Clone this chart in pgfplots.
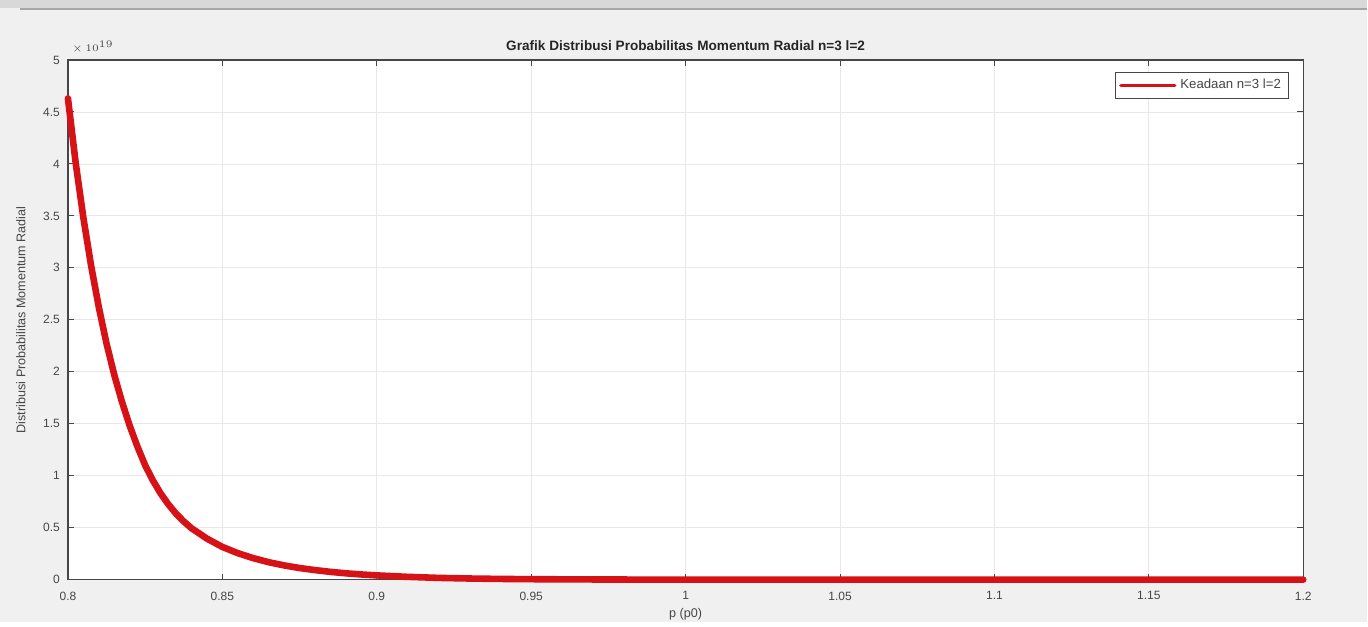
\documentclass[border=0pt]{standalone}
\usepackage{pgfplots}
\pgfplotsset{compat=1.18}
\usepackage{fontspec}
\setmainfont{Liberation Sans}
\definecolor{mred}{RGB}{214,18,22}
\definecolor{axgray}{RGB}{70,70,70}
\definecolor{bg}{RGB}{240,240,240}
\begin{document}
\begin{tikzpicture}
\fill[bg] (-34pt,-21pt) rectangle (650pt,290pt);
\fill[bg!90!black] (-34pt,286pt) rectangle (650pt,290pt);
\draw[gray!70, line width=0.8pt] (-24pt,285.5pt) -- (650pt,285.5pt);
\begin{axis}[
  scale only axis,
  width=618pt, height=260pt,
  at={(0,0)}, anchor=south west,
  xmin=0.8, xmax=1.2, ymin=0, ymax=5,
  axis background/.style={fill=white},
  axis line style={axgray, line width=0.6pt},
  xtick={0.8,0.85,0.9,0.95,1,1.05,1.1,1.15,1.2},
  xticklabels={0.8,0.85,0.9,0.95,1,1.05,1.1,1.15,1.2},
  ytick={0,0.5,1,1.5,2,2.5,3,3.5,4,4.5,5},
  yticklabels={0,0.5,1,1.5,2,2.5,3,3.5,4,4.5,5},
  tick align=inside,
  major tick length=3pt,
  tick style={axgray, line width=0.5pt},
  xmajorgrids, ymajorgrids,
  grid style={gray!18, line width=0.4pt},
  ticklabel style={font=\fontsize{6}{7}\selectfont, text=axgray},
  xticklabel style={yshift=-2.5pt},
  yticklabel style={xshift=-0.5pt},
  title={\textbf{Grafik Distribusi Probabilitas Momentum Radial n=3 l=2}},
  title style={font=\fontsize{6.8}{8}\selectfont, text=black!85, yshift=-5pt},
  xlabel={p (p0)},
  ylabel={Distribusi Probabilitas Momentum Radial},
  label style={font=\fontsize{6.3}{7.5}\selectfont, text=axgray},
  xlabel style={yshift=3pt},
  ylabel style={yshift=2pt},
  legend style={at={(rel axis cs:0.9887,0.977)}, anchor=north east,
    font=\fontsize{6.6}{7.5}\selectfont, text=axgray, draw=axgray,
    line width=0.4pt, inner xsep=2pt, inner ysep=1.5pt},
  legend image post style={line width=1.6pt},
  legend image code/.code={\draw[#1] (0pt,0pt) -- (27pt,0pt);},
  clip=false,
]
\addplot[mred, line width=3.3pt, line cap=round, line join=round] coordinates {
(0.800,4.63) (0.8025,4.01) (0.805,3.48) (0.8075,3.02) (0.810,2.62)
(0.8125,2.27) (0.815,1.97) (0.8175,1.71) (0.820,1.48) (0.8225,1.28)
(0.825,1.10) (0.8275,0.955) (0.830,0.83) (0.8325,0.725) (0.835,0.635)
(0.8375,0.56) (0.840,0.495) (0.845,0.395) (0.850,0.315) (0.855,0.255)
(0.860,0.207) (0.865,0.168) (0.870,0.137) (0.875,0.112) (0.880,0.092)
(0.885,0.075) (0.890,0.061) (0.895,0.05) (0.900,0.041) (0.910,0.027)
(0.920,0.017) (0.930,0.011) (0.940,0.007) (0.950,0.0045) (0.975,0.0013)
(1.000,0.0003) (1.050,0.00002) (1.100,0) (1.150,0) (1.200,0)
};
\addlegendentry{Keadaan n=3 l=2}
\node[anchor=south west, font=\fontsize{5.5}{6}\selectfont, text=axgray, inner sep=0pt]
  at (rel axis cs:0.003,1.012) {$\times\,10^{19}$};
\end{axis}
\end{tikzpicture}
\end{document}
